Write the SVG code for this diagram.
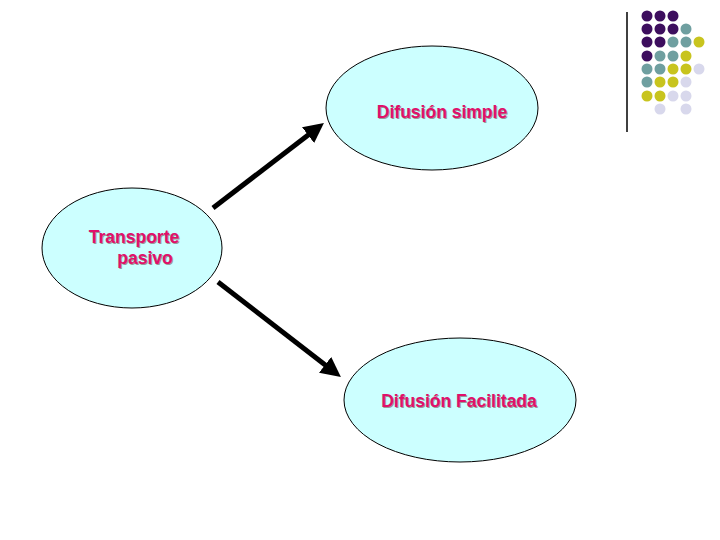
<svg xmlns="http://www.w3.org/2000/svg" width="720" height="540" viewBox="0 0 720 540">
<style>
.n{fill:#ccffff;stroke:#000;stroke-width:1}
.t{font-family:"Liberation Sans",Arial,sans-serif;font-weight:bold;font-size:17.5px;fill:#e0106a}
.s{font-family:"Liberation Sans",Arial,sans-serif;font-weight:bold;font-size:17.5px;fill:#999}
.P{fill:#3d0e5e}.T{fill:#6f9fa0}.Y{fill:#c8c41e}.L{fill:#d8d8ec}
</style>
<defs><marker id="a" markerWidth="4" markerHeight="4" refX="2" refY="2" orient="auto" markerUnits="strokeWidth"><path d="M0,0 L4,2 L0,4 z" fill="#000"/></marker></defs>
<rect width="720" height="540" fill="#fff"/>
<g id="deco">
<line x1="627" y1="12" x2="627" y2="132" stroke="#000" stroke-width="1.5"/>
<g>
<circle class="P" cx="647" cy="16" r="5.5"/><circle class="P" cx="660" cy="16" r="5.5"/><circle class="P" cx="673" cy="16" r="5.5"/>
<circle class="P" cx="647" cy="29" r="5.5"/><circle class="P" cx="660" cy="29" r="5.5"/><circle class="P" cx="673" cy="29" r="5.5"/><circle class="T" cx="686" cy="29" r="5.5"/>
<circle class="P" cx="647" cy="42" r="5.5"/><circle class="P" cx="660" cy="42" r="5.5"/><circle class="T" cx="673" cy="42" r="5.5"/><circle class="T" cx="686" cy="42" r="5.5"/><circle class="Y" cx="699" cy="42" r="5.5"/>
<circle class="P" cx="647" cy="56" r="5.5"/><circle class="T" cx="660" cy="56" r="5.5"/><circle class="T" cx="673" cy="56" r="5.5"/><circle class="Y" cx="686" cy="56" r="5.5"/>
<circle class="T" cx="647" cy="69" r="5.5"/><circle class="T" cx="660" cy="69" r="5.5"/><circle class="Y" cx="673" cy="69" r="5.5"/><circle class="Y" cx="686" cy="69" r="5.5"/><circle class="L" cx="699" cy="69" r="5.5"/>
<circle class="T" cx="647" cy="82" r="5.5"/><circle class="Y" cx="660" cy="82" r="5.5"/><circle class="Y" cx="673" cy="82" r="5.5"/><circle class="L" cx="686" cy="82" r="5.5"/>
<circle class="Y" cx="647" cy="96" r="5.5"/><circle class="Y" cx="660" cy="96" r="5.5"/><circle class="L" cx="673" cy="96" r="5.5"/><circle class="L" cx="686" cy="96" r="5.5"/>
<circle class="L" cx="660" cy="109" r="5.5"/><circle class="L" cx="686" cy="109" r="5.5"/>
</g>
</g>
<g id="connectors" stroke="#000" stroke-width="5">
<line x1="213" y1="208" x2="316" y2="129" marker-end="url(#a)"/>
<line x1="218" y1="282" x2="333" y2="371" marker-end="url(#a)"/>
</g>
<g id="n1"><ellipse class="n" cx="432" cy="108" rx="106" ry="62"/>
<text class="s" x="443" y="119" text-anchor="middle">Difusión simple</text><text class="t" x="442" y="118" text-anchor="middle">Difusión simple</text></g>
<g id="n2"><ellipse class="n" cx="132" cy="248" rx="90" ry="60"/>
<text class="s" x="135" y="244" text-anchor="middle">Transporte</text><text class="t" x="134" y="243" text-anchor="middle">Transporte</text>
<text class="s" x="146" y="265" text-anchor="middle">pasivo</text><text class="t" x="145" y="264" text-anchor="middle">pasivo</text></g>
<g id="n3"><ellipse class="n" cx="460" cy="400" rx="116" ry="62"/>
<text class="s" x="460" y="408" text-anchor="middle">Difusión Facilitada</text><text class="t" x="459" y="407" text-anchor="middle">Difusión Facilitada</text></g>
</svg>
